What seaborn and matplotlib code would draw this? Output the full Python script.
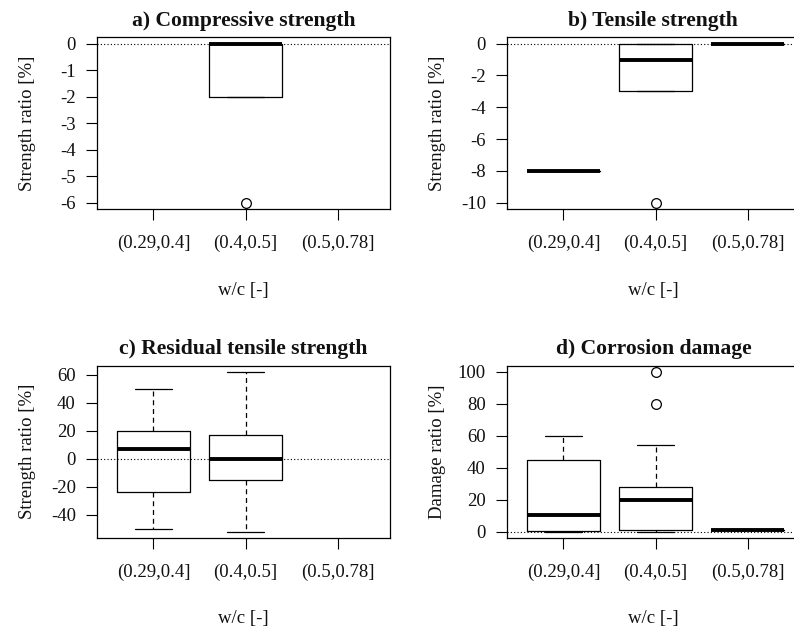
import numpy as np
import pandas as pd
import matplotlib
matplotlib.use("Agg")
import matplotlib.pyplot as plt
import seaborn as sns

# ---- data ----
categories = ["(0.29,0.4]", "(0.4,0.5]", "(0.5,0.78]"]

comp_g2 = [-6, -2, -2, 0, 0, 0, 0]

tens_g1 = [-8, -8, -8]
tens_g2 = [-10, -3, -3, -1, 0, 0, 0]
tens_g3 = [0, 0, 0]

resid_g1 = [-50, -24, 7, 20, 50]
resid_g2 = [-52, -15, 0, 17, 62]

corr_g1 = [0, 0.5, 10.5, 45, 60]
corr_g2 = [0, 1, 1, 1, 5, 15, 20, 24, 26, 28, 54, 80, 100]
corr_g3 = [1, 1, 1]

titles = ["a) Compressive strength", "b) Tensile strength",
          "c) Residual tensile strength", "d) Corrosion damage"]
ylabels = ["Strength ratio [%]", "Strength ratio [%]",
           "Strength ratio [%]", "Damage ratio [%]"]
xlabel = "w/c [-]"
yticks_a = [0, -1, -2, -3, -4, -5, -6]
yticks_b = [0, -2, -4, -6, -8, -10]
yticks_c = [-40, -20, 0, 20, 40, 60]
yticks_d = [0, 20, 40, 60, 80, 100]


def frame(groups):
    rows = []
    for cat, vals in groups:
        for v in vals:
            rows.append((cat, v))
    return pd.DataFrame(rows, columns=["wc", "value"])


panels = [
    (frame([(categories[1], comp_g2)]), yticks_a, (-6.24, 0.24)),
    (frame([(categories[0], tens_g1), (categories[1], tens_g2),
            (categories[2], tens_g3)]), yticks_b, (-10.4, 0.4)),
    (frame([(categories[0], resid_g1), (categories[1], resid_g2)]),
     yticks_c, (-56.56, 66.56)),
    (frame([(categories[0], corr_g1), (categories[1], corr_g2),
            (categories[2], corr_g3)]), yticks_d, (-4, 104)),
]

sns.set_style("white")
plt.rcParams["font.family"] = ["Liberation Serif", "DejaVu Serif"]
plt.rcParams["axes.unicode_minus"] = False

W, H = 794, 631
fig = plt.figure(figsize=(W / 100, H / 100), dpi=100)

# axes boxes in pixels: (left, top, right, bottom)
boxes_px = [
    (96.7, 37.3, 390.0, 209.0),
    (506.7, 37.3, 800.0, 209.0),
    (96.7, 365.5, 390.0, 538.0),
    (506.7, 365.5, 800.0, 538.0),
]

for i, (df, yt, ylim) in enumerate(panels):
    l, t, r, b = boxes_px[i]
    ax = fig.add_axes([l / W, 1 - b / H, (r - l) / W, (b - t) / H])
    ax.axhline(0, color="black", lw=0.8, ls=(0, (1, 2)), zorder=0.5)
    sns.boxplot(
        data=df, x="wc", y="value", order=categories, ax=ax,
        fill=False, color="black", width=0.8, linewidth=0.9,
        whiskerprops=dict(linestyle=(0, (4, 3)), color="black", linewidth=0.9),
        capprops=dict(color="black", linewidth=0.9),
        boxprops=dict(color="black", linewidth=0.9),
        medianprops=dict(color="black", linewidth=2.8, solid_capstyle="butt"),
        flierprops=dict(marker="o", markerfacecolor="none",
                        markeredgecolor="black", markersize=7,
                        markeredgewidth=0.9),
    )
    ax.set_xlim(-0.617, 2.57)
    ax.set_ylim(*ylim)
    ax.set_yticks(yt)
    ax.set_yticklabels([str(v) for v in yt])
    ax.set_xticks(range(len(categories)))
    ax.set_xticklabels(categories)
    for s in ax.spines.values():
        s.set_visible(True)
        s.set_color("black")
        s.set_linewidth(0.9)
    ax.tick_params(axis="both", direction="out", length=8, width=0.8,
                   color="black", labelsize=13.5, labelcolor="#111111")
    ax.tick_params(axis="x", pad=10.5, bottom=True)
    ax.tick_params(axis="y", pad=7, left=True)
    ax.set_title(titles[i], fontsize=15.6, fontweight="bold", pad=8,
                 color="#111111")
    ax.set_xlabel(xlabel, fontsize=13.5, va="center", color="#111111")
    ax.xaxis.set_label_coords(0.5, -81 / (b - t))
    ax.set_ylabel(ylabels[i], fontsize=13.5, va="center", color="#111111")
    ax.yaxis.set_label_coords(-69.5 / (r - l), 0.5)

fig.savefig("out.png", dpi=100, facecolor="white")
